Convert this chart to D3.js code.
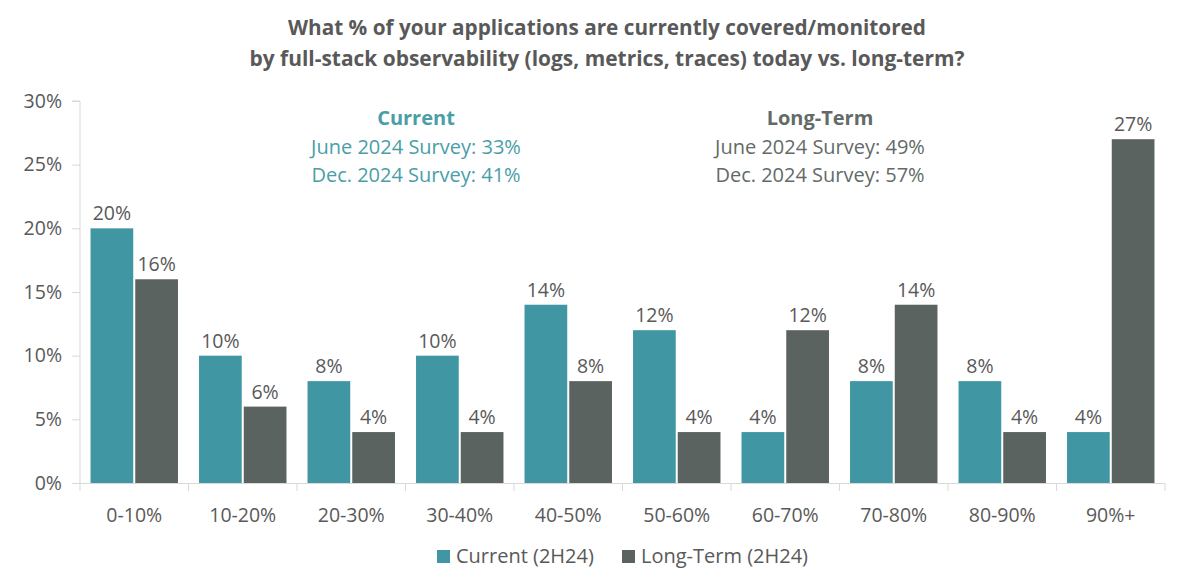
<!DOCTYPE html>
<html><head><meta charset="utf-8">
<script src="https://cdn.jsdelivr.net/npm/d3@7"></script>
<style>body{margin:0;background:#fff;} text{font-family:"Open Sans",sans-serif;}</style>
</head><body><svg id="c" width="1194" height="583"></svg>
<script>
const categories = ["0-10%","10-20%","20-30%","30-40%","40-50%","50-60%","60-70%","70-80%","80-90%","90%+"];
const currentValues = [20,10,8,10,14,12,4,8,8,4];
const longTermValues = [16,6,4,4,8,4,12,14,4,27];
const seriesNames = ["Current (2H24)","Long-Term (2H24)"];
const yTicks = [0,5,10,15,20,25,30];
const titleLines = ["What % of your applications are currently covered/monitored","by full-stack observability (logs, metrics, traces) today vs. long-term?"];
const noteCurrent = ["Current","June 2024 Survey: 33%","Dec. 2024 Survey: 41%"];
const noteLong = ["Long-Term","June 2024 Survey: 49%","Dec. 2024 Survey: 57%"];

const colors = ["#4097a3","#5a6360"];
const textColor = "#595959";
const svg = d3.select("#c");
const m = {left:80, right:1165, top:101, bottom:483};
const fs = 19.5;
const fsNote = 20;

const x = d3.scaleBand().domain(categories).range([m.left,m.right]).paddingInner(0.194).paddingOuter(0.097);
const x1 = d3.scaleBand().domain([0,1]).range([0,x.bandwidth()]).paddingInner(0.045);
const y = d3.scaleLinear().domain([0,30]).range([m.bottom,m.top]);

// title
svg.append("g").selectAll("text").data(titleLines).join("text")
  .attr("x",607).attr("y",(d,i)=>35+i*31).attr("text-anchor","middle")
  .attr("font-size",21).attr("font-weight","bold").attr("fill",textColor)
  .attr("textLength",(d,i)=>i===0?638:715).attr("lengthAdjust","spacingAndGlyphs").text(d=>d);

// y axis
const yAxis = d3.axisLeft(y).tickValues(yTicks).tickFormat(d=>d+"%").tickSize(8).tickPadding(10);
const gy = svg.append("g").attr("transform",`translate(${m.left},0)`).call(yAxis);
gy.select(".domain").attr("stroke","#d9d9d9").attr("d",`M-8,${m.top}H0V${m.bottom}`);
gy.selectAll(".tick line").attr("stroke","#d9d9d9");
gy.selectAll(".tick text").attr("fill",textColor).attr("font-size",fs).style("font-family","Open Sans");

// x axis
const xEdges = categories.map((c,i)=> m.left + i*(m.right-m.left)/categories.length).concat([m.right]);
svg.append("line").attr("x1",m.left).attr("x2",m.right).attr("y1",m.bottom+0.5).attr("y2",m.bottom+0.5).attr("stroke","#d9d9d9");
svg.append("g").selectAll("line").data(xEdges).join("line")
  .attr("x1",d=>d).attr("x2",d=>d).attr("y1",m.bottom).attr("y2",m.bottom+8).attr("stroke","#d9d9d9");
svg.append("g").selectAll("text").data(categories).join("text")
  .attr("x",d=>x(d)+x.bandwidth()/2).attr("y",m.bottom+39).attr("text-anchor","middle")
  .attr("font-size",fs).attr("fill",textColor).text(d=>d);

// bars
const data = categories.map((c,i)=>({c, vals:[currentValues[i], longTermValues[i]]}));
const groups = svg.append("g").selectAll("g").data(data).join("g").attr("transform",d=>`translate(${x(d.c)},0)`);
groups.selectAll("rect").data(d=>d.vals.map((v,k)=>({v,k}))).join("rect")
  .attr("x",d=>x1(d.k)).attr("width",x1.bandwidth())
  .attr("y",d=>y(d.v)).attr("height",d=>y(0)-y(d.v))
  .attr("fill",d=>colors[d.k]);
groups.selectAll("text").data(d=>d.vals.map((v,k)=>({v,k}))).join("text")
  .attr("x",d=>x1(d.k)+x1.bandwidth()/2).attr("y",d=>y(d.v)-8).attr("text-anchor","middle")
  .attr("font-size",fs).attr("fill",textColor).text(d=>d.v+"%");

// notes
function note(lines,cx,col){
  svg.append("g").selectAll("text").data(lines).join("text")
    .attr("x",cx).attr("y",(d,i)=>125+i*28.5).attr("text-anchor","middle")
    .attr("font-size",fsNote).attr("font-weight",(d,i)=>i===0?"bold":"normal").attr("fill",col).text(d=>d);
}
note(noteCurrent,416,"#4a9ea8");
note(noteLong,820,"#636b68");

// legend
const leg = svg.append("g");
const legX = [437,622];
seriesNames.forEach((s,i)=>{
  leg.append("rect").attr("x",legX[i]).attr("y",550).attr("width",13).attr("height",13).attr("fill",colors[i]);
  leg.append("text").attr("x",legX[i]+19).attr("y",563).attr("font-size",fsNote).attr("fill",textColor).text(s);
});
</script></body></html>
